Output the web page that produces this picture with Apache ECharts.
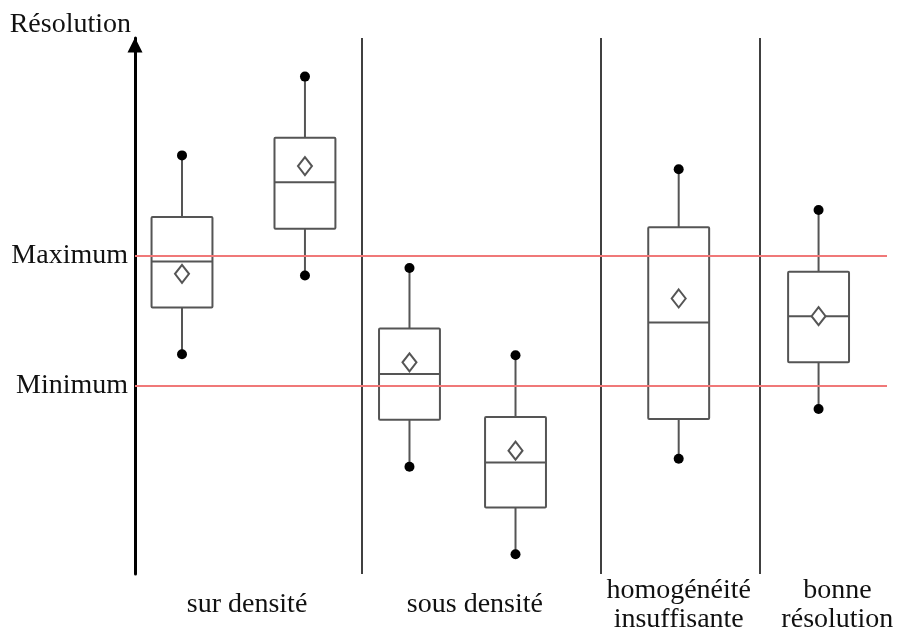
<!DOCTYPE html>
<html>
<head>
<meta charset="utf-8">
<script src="https://cdn.jsdelivr.net/npm/echarts@6/dist/echarts.min.js"></script>
<style>
  html, body { margin: 0; padding: 0; background: #fff; }
  #main { width: 897px; height: 634px; }
</style>
</head>
<body>
<div id="main"></div>
<script>
  // box positions along the x value axis
  const boxX = [0.625, 2.26, 3.65, 5.06, 7.23, 9.09];
  // [whisker low, q1, median, q3, whisker high]
  const lowVals = [41.0, 55.7, 20.0, 3.7, 21.5, 30.8];
  const q1Vals = [49.7, 64.4, 28.8, 12.4, 28.9, 39.5];
  const medVals = [58.3, 73.1, 37.3, 20.8, 46.9, 48.1];
  const q3Vals = [66.6, 81.4, 45.8, 29.3, 64.7, 56.4];
  const highVals = [78.1, 92.8, 57.1, 40.8, 75.5, 67.9];
  const meanVals = [56.0, 76.1, 39.5, 23.0, 51.4, 48.1];

  const groupNames = ['sur densité', 'sous densité', 'homogénéité\ninsuffisante', 'bonne\nrésolution'];
  const groupX = [1.49, 4.52, 7.23, 9.34];
  const separatorX = [3.02, 6.20, 8.31];

  const limitNames = ['Maximum', 'Minimum'];
  const limitVals = [59.4, 35.1];

  const boxWidth = 0.81;

  const chart = echarts.init(document.getElementById('main'));

  const boxData = boxX.map((x, i) => [x, lowVals[i], q1Vals[i], medVals[i], q3Vals[i], highVals[i], meanVals[i]]);

  const lineStyle = { stroke: '#555', lineWidth: 2, fill: null };

  function renderBox(params, api) {
    const x = api.value(0);
    const pLow = api.coord([x, api.value(1)]);
    const pQ1 = api.coord([x, api.value(2)]);
    const pMed = api.coord([x, api.value(3)]);
    const pQ3 = api.coord([x, api.value(4)]);
    const pHigh = api.coord([x, api.value(5)]);
    const pMean = api.coord([x, api.value(6)]);
    const half = api.size([boxWidth, 0])[0] / 2;
    const cx = pLow[0];

    return {
      type: 'group',
      children: [
        { type: 'line', shape: { x1: cx, y1: pHigh[1], x2: cx, y2: pQ3[1] }, style: lineStyle },
        { type: 'line', shape: { x1: cx, y1: pQ1[1], x2: cx, y2: pLow[1] }, style: lineStyle },
        { type: 'rect', shape: { x: cx - half, y: pQ3[1], width: half * 2, height: pQ1[1] - pQ3[1], r: 1 }, style: { stroke: '#555', lineWidth: 2, fill: '#fff' } },
        { type: 'line', shape: { x1: cx - half, y1: pMed[1], x2: cx + half, y2: pMed[1] }, style: lineStyle },
        { type: 'circle', shape: { cx: cx, cy: pHigh[1], r: 5 }, style: { fill: '#000' } },
        { type: 'circle', shape: { cx: cx, cy: pLow[1], r: 5 }, style: { fill: '#000' } },
        {
          type: 'polygon',
          shape: { points: [[cx, pMean[1] - 9], [cx + 7, pMean[1]], [cx, pMean[1] + 9], [cx - 7, pMean[1]]] },
          style: { stroke: '#555', lineWidth: 2, fill: '#fff' }
        }
      ]
    };
  }

  const option = {
    backgroundColor: '#fff',
    animation: false,
    textStyle: { fontFamily: 'Liberation Serif', color: '#111' },
    grid: { left: 135, right: 10, top: 38, bottom: 57 },
    xAxis: {
      type: 'value',
      min: 0,
      max: 10,
      axisLine: { show: false },
      axisTick: { show: false },
      splitLine: { show: false },
      axisLabel: {
        customValues: groupX,
        formatter: v => groupNames[groupX.indexOf(v)] || '',
        fontFamily: 'Liberation Serif',
        fontSize: 28,
        color: '#111',
        lineHeight: 29,
        verticalAlign: 'middle',
        margin: 31
      }
    },
    yAxis: {
      type: 'value',
      min: 0,
      max: 100,
      name: 'Résolution',
      nameLocation: 'end',
      nameGap: -1,
      nameTextStyle: { fontFamily: 'Liberation Serif', fontSize: 28, color: '#111', align: 'right', verticalAlign: 'bottom', padding: [0, 4, 0, 0] },
      axisLine: { show: true, symbol: ['none', 'triangle'], symbolSize: [15, 15], symbolOffset: [0, -7], lineStyle: { color: '#000', width: 3 } },
      axisTick: { show: false },
      axisLabel: { show: false },
      splitLine: { show: false }
    },
    series: [
      {
        type: 'line',
        data: [],
        silent: true,
        markLine: {
          silent: true,
          symbol: 'none',
          data: separatorX.map(x => ({ xAxis: x, lineStyle: { color: '#000', width: 1.5, type: 'solid' }, label: { show: false } }))
            .concat(limitNames.map((n, i) => ({
              name: n,
              yAxis: limitVals[i],
              lineStyle: { color: '#f07878', width: 2, type: 'solid' },
              label: { show: true, position: 'start', formatter: '{b}', fontFamily: 'Liberation Serif', fontSize: 28, color: '#111', distance: 7 }
            })))
        }
      },
      {
        type: 'custom',
        renderItem: renderBox,
        data: boxData,
        encode: { x: 0, y: [1, 2, 3, 4, 5, 6] },
        z: 3
      }
    ]
  };

  chart.setOption(option);
</script>
</body>
</html>
